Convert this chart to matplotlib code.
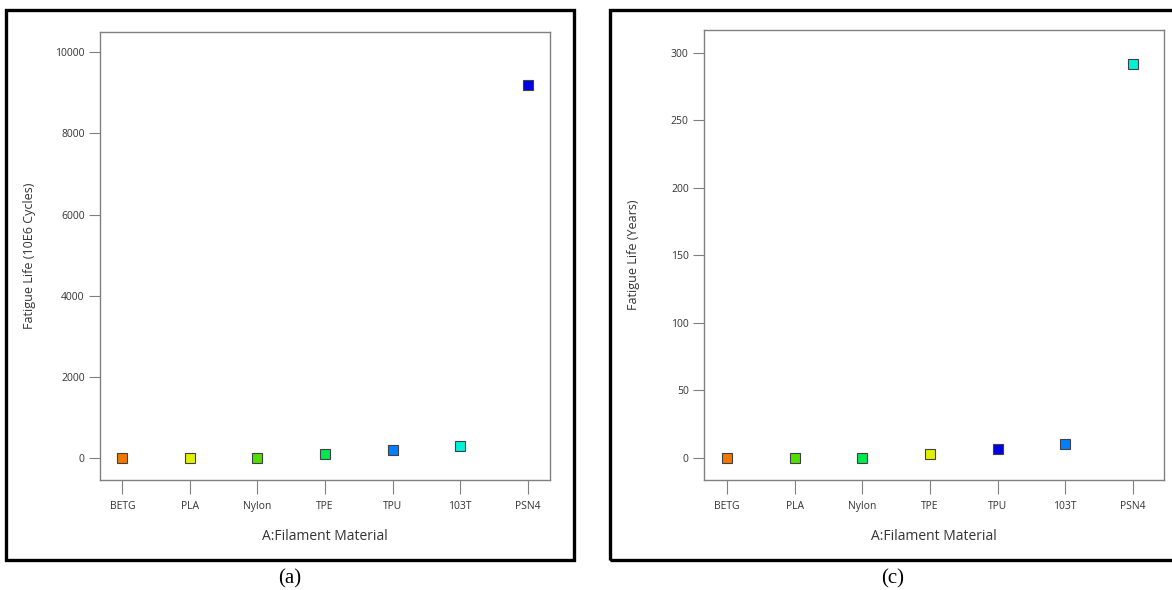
import matplotlib
matplotlib.use('Agg')
import matplotlib.pyplot as plt
from matplotlib.patches import Rectangle

# Dados
materiais = ['BETG', 'PLA', 'Nylon', 'TPE', 'TPU', '103T', 'PSN4']
vida_ciclos = [0, 0, 0, 100, 200, 300, 9200]      # (a) 10E6 cycles
vida_anos = [0, 0, 0, 3, 7, 10, 292]              # (c) years

cores_a = ['#f07800', '#e0f000', '#50e000', '#00e850', '#0080ff', '#00f0d8', '#0000e0']
cores_c = ['#f07800', '#50e000', '#00e850', '#e0f000', '#0000e0', '#0080ff', '#00f0d8']

plt.rcParams['font.family'] = ['Open Sans', 'DejaVu Sans']

W, H = 1172, 590
fig = plt.figure(figsize=(W / 100, H / 100), dpi=100)


def caixa(x0, y0, x1, y1):
    # converte pixels (origem no topo) para coordenadas da figura
    return [x0 / W, 1 - y1 / H, (x1 - x0) / W, (y1 - y0) / H]


def painel(pos, valores, cores, ylabel, ylim, xlim, yticks, pad_y):
    ax = fig.add_axes(pos)
    x = list(range(len(materiais)))
    for xi, v, c in zip(x, valores, cores):
        ax.plot(xi, v, marker='s', markersize=6.5, color=c,
                markeredgecolor='#404040', markeredgewidth=0.8, linestyle='none')
    ax.set_xlim(*xlim)
    ax.set_ylim(*ylim)
    ax.set_xticks(x)
    ax.set_xticklabels(materiais)
    ax.set_yticks(yticks)
    for s in ax.spines.values():
        s.set_color('#808080')
        s.set_linewidth(1)
    ax.tick_params(axis='x', direction='out', length=10, pad=5, color='#808080',
                   labelsize=7.5, labelcolor='#333333')
    ax.tick_params(axis='y', direction='out', length=8, pad=3, color='#808080',
                   labelsize=7.5, labelcolor='#333333')
    ax.set_xlabel('A:Filament Material', fontsize=10, color='#333333', labelpad=12)
    ax.set_ylabel(ylabel, fontsize=9, color='#333333', labelpad=pad_y)
    return ax


painel(caixa(100, 32, 550, 480), vida_ciclos, cores_a, 'Fatigue Life (10E6 Cycles)',
       (-540, 10500), (-0.33, 6.33), [0, 2000, 4000, 6000, 8000, 10000], 14)
painel(caixa(704, 30, 1164, 480), vida_anos, cores_c, 'Fatigue Life (Years)',
       (-16.3, 317), (-0.34, 6.46), [0, 50, 100, 150, 200, 250, 300], 22)

# molduras pretas em volta de cada painel
for (x0, x1) in [(6, 574), (610, 1185)]:
    x, y, w, h = caixa(x0, 10, x1, 560)
    fig.patches.append(Rectangle((x, y), w, h, transform=fig.transFigure,
                                 fill=False, edgecolor='black', linewidth=2.4))

fig.text(290 / W, 1 - 579 / H, '(a)', ha='center', va='center', fontsize=15,
         family='Liberation Serif')
fig.text(893 / W, 1 - 579 / H, '(c)', ha='center', va='center', fontsize=15,
         family='Liberation Serif')

fig.savefig('out.png', dpi=100)
